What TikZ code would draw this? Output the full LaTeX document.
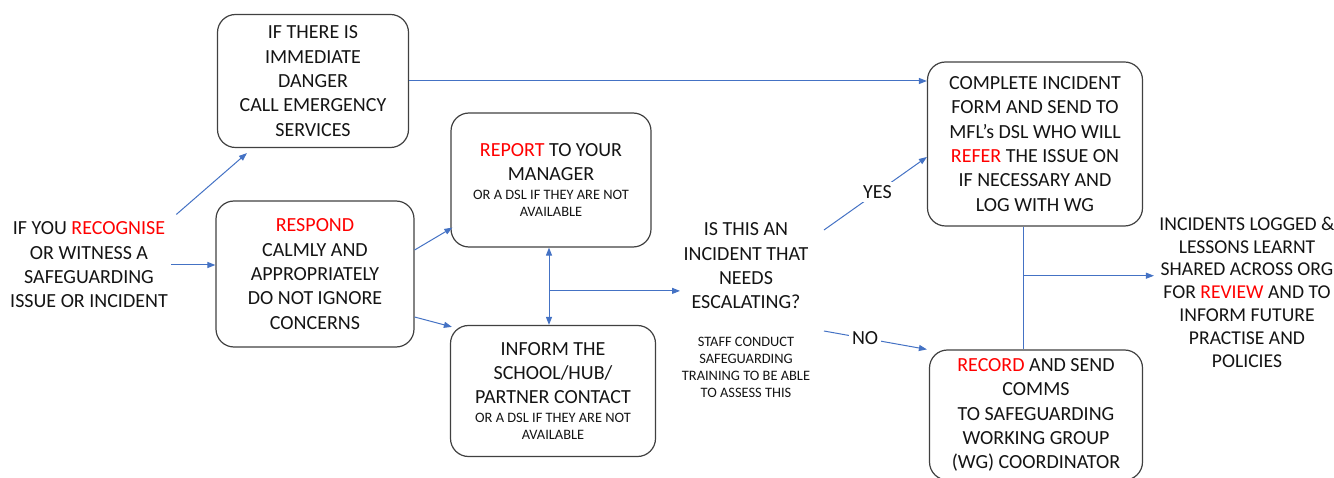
\documentclass[tikz,border=0pt]{standalone}
\usepackage{fontspec}
\setmainfont{Carlito}
\usetikzlibrary{arrows.meta, positioning, calc}
\definecolor{flowblue}{HTML}{4472C4}
\definecolor{alertred}{HTML}{FF0000}
\definecolor{boxgray}{HTML}{404040}
\definecolor{inkblack}{HTML}{141414}
\newcommand{\hl}[1]{\textcolor{alertred}{#1}}
\newcommand{\bigtxt}{\fontsize{20}{24.3}\selectfont}
\newcommand{\smalltxt}{\fontsize{14.4}{17}\selectfont}

\begin{document}
\begin{tikzpicture}[
  x=1pt, y=-1pt,
  >={Triangle[length=8pt, width=6pt]},
  stepbox/.style={draw=boxgray, line width=1.2pt, rounded corners=18pt,
    align=center, font=\bigtxt, text=inkblack, inner sep=2pt},
  plain/.style={align=center, font=\bigtxt, text=inkblack},
  flow/.style={->, flowblue, line width=1pt},
]

% Frame
\useasboundingbox (0,0) rectangle (1334,478);

% =============================================
% Left side: recognise, respond, danger
% =============================================
\node[plain] (recog) at (89,265)
  {IF YOU \hl{RECOGNISE}\\OR WITNESS A\\SAFEGUARDING\\ISSUE OR INCIDENT};

\node[stepbox, minimum width=191, minimum height=133] (danger) at (313,81)
  {IF THERE IS\\IMMEDIATE\\DANGER\\CALL EMERGENCY\\SERVICES};

\node[stepbox, minimum width=198, minimum height=146] (respond) at (315,274)
  {\hl{RESPOND}\\CALMLY AND\\APPROPRIATELY\\DO NOT IGNORE\\CONCERNS};

% =============================================
% Middle: report / inform, question
% =============================================
\node[stepbox, minimum width=200, minimum height=134] (report) at (551,180)
  {\hl{REPORT} TO YOUR\\MANAGER\\[-5pt]
   {\smalltxt OR A DSL IF THEY ARE NOT}\\[-7.3pt]{\smalltxt AVAILABLE}};

\node[stepbox, minimum width=205, minimum height=131] (inform) at (553,391)
  {INFORM THE\\SCHOOL/HUB/\\PARTNER CONTACT\\[-5pt]
   {\smalltxt OR A DSL IF THEY ARE NOT}\\[-7.3pt]{\smalltxt AVAILABLE}};

\node[plain] (question) at (746,266)
  {IS THIS AN\\INCIDENT THAT\\NEEDS\\ESCALATING?};
\node[align=center, font=\smalltxt, text=inkblack] (staff) at (746,367)
  {STAFF CONDUCT\\SAFEGUARDING\\TRAINING TO BE ABLE\\TO ASSESS THIS};

% =============================================
% Right side: complete, record, outcome
% =============================================
\node[stepbox, minimum width=215, minimum height=164] (complete) at (1035,144)
  {COMPLETE INCIDENT\\FORM AND SEND TO\\MFL’s DSL WHO WILL\\\hl{REFER} THE ISSUE ON\\IF NECESSARY AND\\LOG WITH WG};

\node[stepbox, minimum width=213, minimum height=130] (record) at (1036,415)
  {\hl{RECORD} AND SEND\\COMMS\\TO SAFEGUARDING\\WORKING GROUP\\(WG) COORDINATOR};

\node[align=center, font=\fontsize{19.6}{22.8}\selectfont, text=inkblack] (incid) at (1247,292)
  {INCIDENTS LOGGED \&\\LESSONS LEARNT\\SHARED ACROSS ORG\\FOR \hl{REVIEW} AND TO\\INFORM FUTURE\\PRACTISE AND\\POLICIES};

% =============================================
% Connectors
% =============================================
\draw[flow] (recog.east) -- (recog.east -| respond.west);
\draw[flow] ([xshift=5pt,yshift=4pt]recog.north east) -- ([xshift=30pt,yshift=-5pt]danger.south west);
\draw[flow] (danger.east) -- (danger.east -| complete.west);

\draw[flow] ([yshift=24pt]respond.east) -- ([xshift=2pt,yshift=20pt]report.south west);
\draw[flow] ([yshift=-43pt]respond.east) -- ([xshift=2pt,yshift=-2pt]inform.north west);

\draw[flow, <->] ([xshift=-2pt]report.south) -- ([xshift=-2pt]report.south |- inform.north);
\coordinate (split) at ($([xshift=-2pt]report.south)!0.56!([xshift=-2pt]report.south |- inform.north)$);
\draw[flow] (split) -- (split -| question.west);

\draw[flow] ([xshift=12pt,yshift=36pt]question.east) --
  node[pos=0.52, fill=white, font=\bigtxt, text=inkblack, inner sep=3pt] {YES}
  ([yshift=-13pt]complete.west);
\draw[flow] ([xshift=12pt,yshift=-65pt]question.east) --
  node[pos=0.4, fill=white, font=\bigtxt, text=inkblack, inner sep=3pt] {NO}
  ([xshift=-2pt]record.north west);

\draw[flowblue, line width=1pt] ([xshift=-12pt]complete.south) -- ([xshift=-12pt]complete.south |- record.north);
\coordinate (logsplit) at ($([xshift=-12pt]complete.south)!0.4!([xshift=-12pt]complete.south |- record.north)$);
\draw[flow] (logsplit) -- ([xshift=-2pt]logsplit -| incid.west);

\end{tikzpicture}
\end{document}
